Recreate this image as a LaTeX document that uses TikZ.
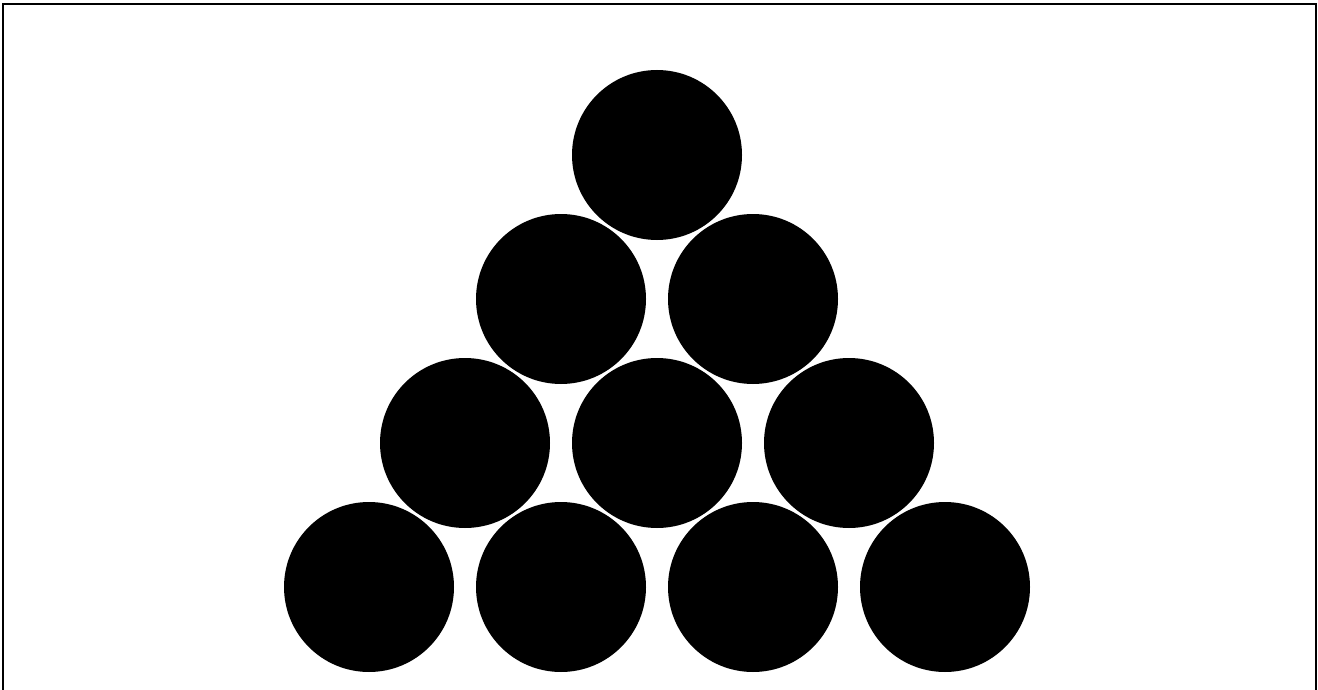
\documentclass[tikz,border=0pt]{standalone}
\usepackage{tikz}
\usetikzlibrary{positioning}

\tikzset{
  ball/.style={circle,fill=black,draw=none,inner sep=0pt,minimum size=170pt},
  frame/.style={draw=black,line width=2.5pt}
}

\begin{document}
\begin{tikzpicture}[x=1pt,y=-1pt]
    \useasboundingbox (0,0) rectangle (1318,690);
    \clip (0,0) rectangle (1318,690);
    \draw[frame] (3,4) rectangle (1316,720);
    % triangle of balls, row r has r balls
    \foreach \r in {1,...,4} {
        \foreach \c in {1,...,\r} {
            \node[ball] (ball-\r-\c) at ({657+(2*\c-\r-1)*96},{155+(\r-1)*144}) {};
        }
    }
\end{tikzpicture}
\end{document}
